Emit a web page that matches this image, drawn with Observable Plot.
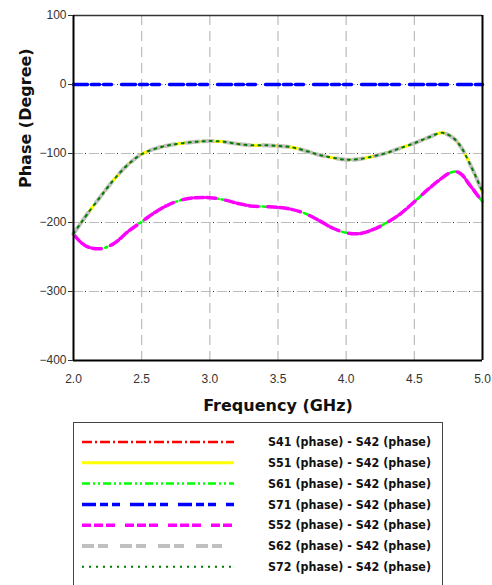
<!DOCTYPE html>
<html><head><meta charset="utf-8">
<script src="https://cdn.jsdelivr.net/npm/d3@7"></script>
<script src="https://cdn.jsdelivr.net/npm/@observablehq/plot@0.6"></script>
<style>
body{margin:0;background:#fff;width:492px;height:585px;overflow:hidden;position:relative;font-family:"Liberation Sans",Arial,sans-serif}
#legend{position:absolute;left:73px;top:422px;width:368px;height:180px;border:1.5px solid #444;border-bottom:none;background:#fff}
</style></head><body>
<div id="chart"></div>
<div id="legend"></div>
<script>
const freqs = [2.0,2.05,2.1,2.2,2.3,2.4,2.5,2.6,2.7,2.8,2.9,3.0,3.1,3.2,3.3,3.4,3.5,3.6,3.7,3.8,3.9,4.0,4.1,4.2,4.3,4.4,4.5,4.6,4.7,4.75,4.8,4.85,4.9,4.95,5.0];
const upperPhase = [-216,-202,-188,-162,-137,-116,-101,-93,-88,-85,-83,-82,-83,-86,-88,-88,-89,-91,-96,-102,-106,-109,-108,-104,-99,-92,-85,-77,-70,-73,-80,-93,-112,-133,-156];
const lowerPhase = [-217,-228,-235,-238,-230,-213,-199,-185,-174,-167,-164,-164,-167,-172,-176,-177,-178,-181,-187,-197,-208,-215,-216,-210,-200,-187,-170,-152,-136,-129,-126,-131,-144,-157,-170];
const s71Phase = freqs.map(() => 0);
const seriesNames = ["S41 (phase) - S42 (phase)","S51 (phase) - S42 (phase)","S61 (phase) - S42 (phase)","S71 (phase) - S42 (phase)","S52 (phase) - S42 (phase)","S62 (phase) - S42 (phase)","S72 (phase) - S42 (phase)"];
const seriesColors = ["#ff0000","#ffff00","#00ff00","#0000ff","#ff00ff","#c0c0c0","#007a00"];
const seriesDash = ["10,3,2,3","none","8,3,2,3,2,3","14,4,8,4,8,10","9,3,9,3,9,10","12,4,10,12","2,5"];
const seriesWidth = [2.5,3,2.5,3.5,3.5,4,2];
const seriesValues = [upperPhase, upperPhase, lowerPhase, s71Phase, lowerPhase, upperPhase, upperPhase];
const yTicks = [100,0,-100,-200,-300,-400];
const xTicks = [2.0,2.5,3.0,3.5,4.0,4.5,5.0];

const lineMarks = seriesNames.map((name, i) => {
  const data = freqs.map((f, j) => ({f, v: seriesValues[i][j]}));
  return Plot.line(data, {x: "f", y: "v", stroke: seriesColors[i], strokeWidth: seriesWidth[i],
    strokeDasharray: seriesDash[i], curve: "catmull-rom"});
});

const chart = Plot.plot({
  width: 492, height: 420,
  marginLeft: 73, marginRight: 10, marginTop: 15, marginBottom: 60,
  style: {fontFamily: "'Liberation Sans', Arial, sans-serif", fontSize: "12px", color: "#333", background: "#fff"},
  x: {domain: [2, 5], label: null},
  y: {domain: [-400, 100], label: null},
  marks: [
    Plot.ruleX(xTicks.slice(1, -1), {stroke: "#bbb", strokeWidth: 1.2, strokeDasharray: "10,6"}),
    Plot.ruleY(yTicks.slice(1, -1), {stroke: "#bbb", strokeWidth: 1.2, strokeDasharray: "10,6"}),
    Plot.ruleY(yTicks.slice(1, -1), {stroke: "#333", strokeWidth: 1.2, strokeDasharray: "1,15", strokeDashoffset: -12}),
    ...lineMarks,
    Plot.ruleY([100], {stroke: "#333", strokeWidth: 1.5}),
    Plot.ruleX([5], {stroke: "#000", strokeWidth: 2}),
    Plot.ruleX([2], {stroke: "#000", strokeWidth: 2}),
    Plot.ruleY([-400], {stroke: "#000", strokeWidth: 2}),
    Plot.axisX({ticks: xTicks, tickFormat: d3.format(".1f"), tickSize: 0, tickPadding: 14, label: null}),
    Plot.axisY({ticks: yTicks, tickSize: 5, tickPadding: 2, label: null}),
    Plot.text(["Frequency (GHz)"], {frameAnchor: "bottom", dy: 50, fontSize: 16, fontWeight: "bold", fill: "#111", fontFamily: "'DejaVu Sans', sans-serif"}),
    Plot.text(["Phase (Degree)"], {frameAnchor: "left", dx: -48, rotate: -90, fontSize: 16, fontWeight: "bold", fill: "#111", fontFamily: "'DejaVu Sans', sans-serif"})
  ]
});
document.getElementById("chart").appendChild(chart);

// legend
const lg = d3.select("#legend").append("svg").attr("width", 368).attr("height", 170);
seriesNames.forEach((name, i) => {
  const y = 19 + i * 20.8;
  lg.append("line").attr("x1", 8).attr("x2", 160).attr("y1", y).attr("y2", y)
    .attr("stroke", seriesColors[i]).attr("stroke-width", seriesWidth[i])
    .attr("stroke-dasharray", seriesDash[i] === "none" ? null : seriesDash[i]);
  lg.append("text").attr("x", 194).attr("y", y).attr("dy", "0.35em")
    .attr("font-family", "'DejaVu Sans', sans-serif").attr("font-weight", "bold")
    .attr("font-size", 12).attr("fill", "#111")
    .attr("textLength", 163).attr("lengthAdjust", "spacingAndGlyphs").text(name);
});
</script>
</body></html>
